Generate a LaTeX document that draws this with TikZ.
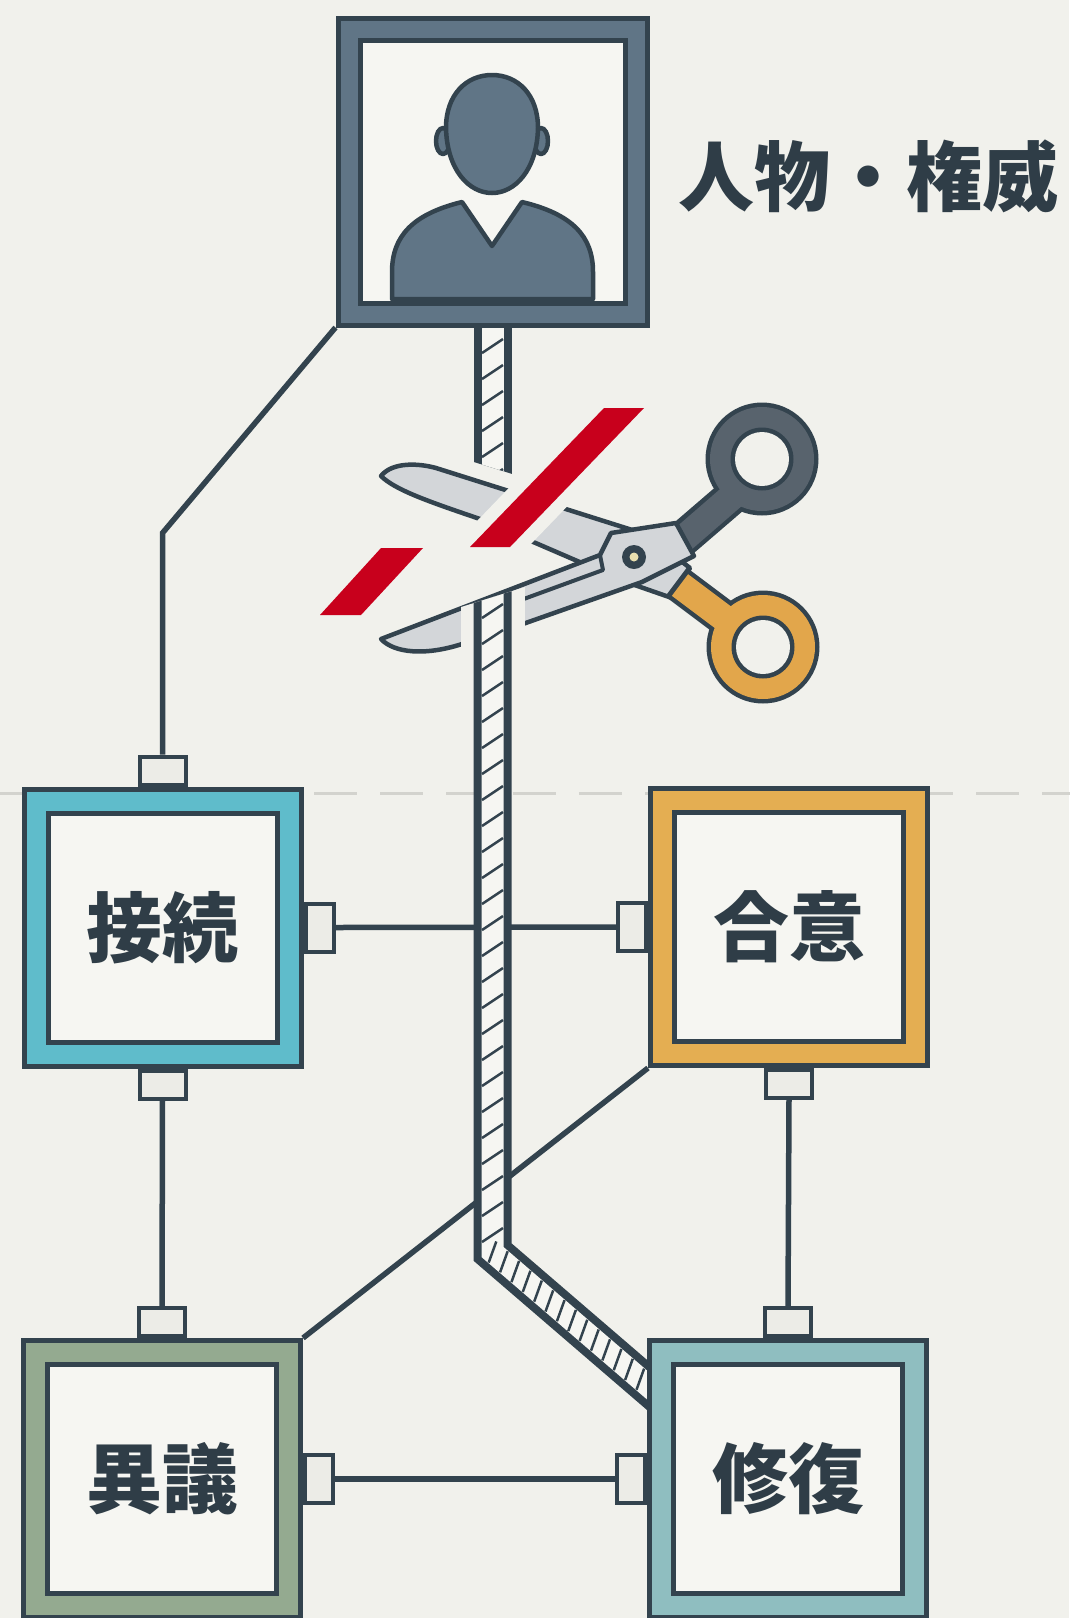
\documentclass[tikz,border=0pt]{standalone}
\usepackage{fontspec}
\newfontfamily\cjk{Noto Sans CJK JP}
\usetikzlibrary{decorations.markings}

\definecolor{bg}{HTML}{F1F1EC}
\definecolor{inner}{HTML}{F6F6F2}
\definecolor{dark}{HTML}{33434E}
\definecolor{ink}{HTML}{2F3D47}
\definecolor{slate}{HTML}{607586}
\definecolor{tealc}{HTML}{5FBCCB}
\definecolor{goldc}{HTML}{E4AE52}
\definecolor{sagec}{HTML}{94AA90}
\definecolor{mistc}{HTML}{8FBEC0}
\definecolor{portfill}{HTML}{ECECE7}
\definecolor{dashc}{HTML}{D3D3CE}
\definecolor{cutred}{HTML}{C8001C}
\definecolor{handleo}{HTML}{E2A64B}
\definecolor{handleg}{HTML}{58636D}
\definecolor{bladec}{HTML}{D3D6D9}
\definecolor{screwc}{HTML}{E9DFAF}

\pgfdeclarelayer{base}
\pgfdeclarelayer{behind}
\pgfsetlayers{base,behind,main}

\tikzset{
  framebox/.style 2 args={draw=dark, line width=5pt, fill=#1, inner sep=0pt,
    minimum width=277pt, minimum height=277pt,
    font=\cjk\bfseries\fontsize{76}{80}\selectfont, text=ink,
    path picture={\draw[dark, line width=5pt, fill=inner]
      ([shift={(#2,-#2)}]path picture bounding box.north west) rectangle
      ([shift={(-#2,#2)}]path picture bounding box.south east);}},
  port/.style={draw=dark, line width=4pt, fill=portfill, inner sep=0pt},
  hport/.style={port, minimum width=46pt, minimum height=28pt},
  vport/.style={port, minimum width=28pt, minimum height=48pt},
  link/.style={draw=dark, line width=5.5pt},
  outl/.style={draw=dark, line width=4.5pt, line join=round},
  ropeline/.style={draw=dark, line width=2.5pt},
  vhatch/.style={decorate, decoration={markings,
    mark=between positions 0 and 1 step 26pt with {\draw[ropeline] (7pt,-10.5pt) -- (-7pt,10.5pt);}}},
  dhatch/.style={decorate, decoration={markings,
    mark=between positions 0 and 1 step 15pt with {\draw[ropeline] (4pt,-10.5pt) -- (-4pt,10.5pt);}}},
  ropeouter/.style={draw=dark, line width=38pt},
  ropeinner/.style={draw=inner, line width=22pt},
}

\begin{document}
\begin{tikzpicture}[x=1pt,y=-1pt]
\useasboundingbox (0,0) rectangle (1069,1618);
\begin{pgfonlayer}{base}
  \fill[bg] (0,0) rectangle (1069,1618);
  % dashed guide line
  \draw[dashc, line width=3pt, dash pattern=on 43pt off 23.2pt] (-17,793) -- (1090,793);
\end{pgfonlayer}

% portrait and the four boxes
\node[framebox={slate}{22pt}, minimum width=309pt, minimum height=307pt] (auth) at (492.5,171.5) {};
\node[framebox={tealc}{24pt}] (conn) at (162.5,927.5) {接続};
\node[framebox={goldc}{24pt}] (agree) at (789,927) {合意};
\node[framebox={sagec}{24pt}] (dissent) at (162,1479) {異議};
\node[framebox={mistc}{24pt}] (repair) at (788,1479) {修復};

% ports
\node[hport, anchor=south] (conn-t) at (conn.north) {};
\node[hport, anchor=north] (conn-b) at (conn.south) {};
\node[vport, anchor=west] (conn-r) at (conn.east) {};
\node[vport, anchor=east] (agree-l) at (agree.west) {};
\node[hport, anchor=north] (agree-b) at (agree.south) {};
\node[hport, anchor=south] (dissent-t) at (dissent.north) {};
\node[vport, anchor=west] (dissent-r) at (dissent.east) {};
\node[hport, anchor=south] (repair-t) at (repair.north) {};
\node[vport, anchor=east] (repair-l) at (repair.west) {};

% label beside the portrait
\node[anchor=west, font=\cjk\bfseries\fontsize{76}{80}\selectfont, text=ink, inner sep=0pt] (authlabel) at (678,176) {人物・権威};

% person icon
\filldraw[outl, fill=slate] (443,141) ellipse [x radius=7pt, y radius=13pt];
\filldraw[outl, fill=slate] (541,141) ellipse [x radius=7pt, y radius=13pt];
\filldraw[outl, fill=slate] (446,128) .. controls (446,95) and (466,75) .. (492,75)
  .. controls (518,75) and (538,95) .. (538,128)
  .. controls (537,170) and (515,193) .. (492,193)
  .. controls (469,193) and (447,170) .. (446,128) -- cycle;
\filldraw[outl, fill=slate] (462,202) -- (492,246) -- (522,202)
  .. controls (572,214) and (593,236) .. (593,272) -- (593,299) -- (392,299) -- (392,272)
  .. controls (392,236) and (413,214) .. (462,202) -- cycle;

\coordinate (bend) at (162.5,533);
\coordinate (ropetop) at (492.5,320);
\coordinate (cuttop) at (492.5,480);
\coordinate (cutbot) at (492.5,585);
\coordinate (ropebend) at (492.5,1252);
\coordinate (ropeend) at (668,1403);

\begin{pgfonlayer}{behind}
  % connectors
  \draw[link] (auth.south west) -- (bend) -- (conn-t.north);
  \draw[link] (conn-r.east) -- (agree-l.west);
  \draw[link] (conn-b.south) -- (dissent-t.north);
  \draw[link] (agree-b.south) -- (repair-t.north);
  \draw[link] (dissent-r.east) -- (repair-l.west);
  \draw[link] (agree.south west) -- (dissent.north east);

  % scissors: blade with the orange handle
  \filldraw[outl, fill=bladec] (381,476) .. controls (392,462) and (418,463) .. (436,468)
    -- (648,535) -- (690,568) -- (672,598) -- (626,582) -- (480,519)
    .. controls (430,502) and (395,490) .. (381,476) -- cycle;
  \draw[dark, line width=36pt] (676,582) -- (740,630);
  \fill[dark] (763,647) circle (56.5pt);
  \draw[handleo, line width=27pt] (680,585) -- (740,630);
  \fill[handleo] (763,647) circle (52pt);
  \fill[dark] (763,647) circle (31.5pt);
  \fill[bg] (763,647) circle (27pt);
  % handle of the second blade
  \draw[dark, line width=36pt] (678,543) -- (735,494);
  \fill[dark] (762,459) circle (56.5pt);
  \draw[handleg, line width=27pt] (682,540) -- (735,494);
  \fill[handleg] (762,459) circle (52pt);
  \fill[dark] (762,459) circle (31.5pt);
  \fill[bg] (762,459) circle (27pt);
  % front blade with pivot plate
  \filldraw[outl, fill=bladec] (381,639) -- (600,555) -- (611,533) -- (676,523) -- (694,556)
    -- (642,582) -- (520,625) -- (462,644)
    .. controls (425,656) and (394,653) .. (381,639) -- cycle;
  \draw[dark, line width=4pt, line join=round] (521,600) -- (603,570) -- (600,555);
  \fill[dark] (634,557) circle (12pt);
  \fill[screwc] (634,557) circle (4.5pt);

  % red cut marks with a light halo
  \draw[bg, line width=26pt, line join=round] (470,547) -- (510,547) -- (644,408) -- (604,408) -- cycle;
  \fill[cutred] (470,547) -- (510,547) -- (644,408) -- (604,408) -- cycle;
  \draw[bg, line width=8pt, line join=round] (320,615) -- (361,615) -- (423,548) -- (381,548) -- cycle;
  \fill[cutred] (320,615) -- (361,615) -- (423,548) -- (381,548) -- cycle;

  % severed hatched tie: upper stub
  \begin{scope}
    \clip (400,300) -- (600,300) -- (600,501.4) -- (400,438.9) -- cycle;
    \draw[ropeouter] (ropetop) -- (cuttop);
    \draw[ropeinner] (ropetop) -- (cuttop);
    \path[vhatch] (ropetop) -- (cuttop);
  \end{scope}
  % lower part, running down to the repair box
  \begin{scope}
    \clip (400,626.1) -- (600,563.6) -- (720,563.6) -- (720,1450) -- (400,1450) -- cycle;
    \draw[bg, line width=64pt] (cutbot) -- (492.5,680);
    \draw[ropeouter] (cutbot) -- (ropebend) -- (ropeend);
    \draw[ropeinner] (cutbot) -- (ropebend) -- (ropeend);
    \path[vhatch] (cutbot) -- (ropebend);
    \path[dhatch] (ropebend) -- (ropeend);
  \end{scope}
\end{pgfonlayer}
\end{tikzpicture}
\end{document}
